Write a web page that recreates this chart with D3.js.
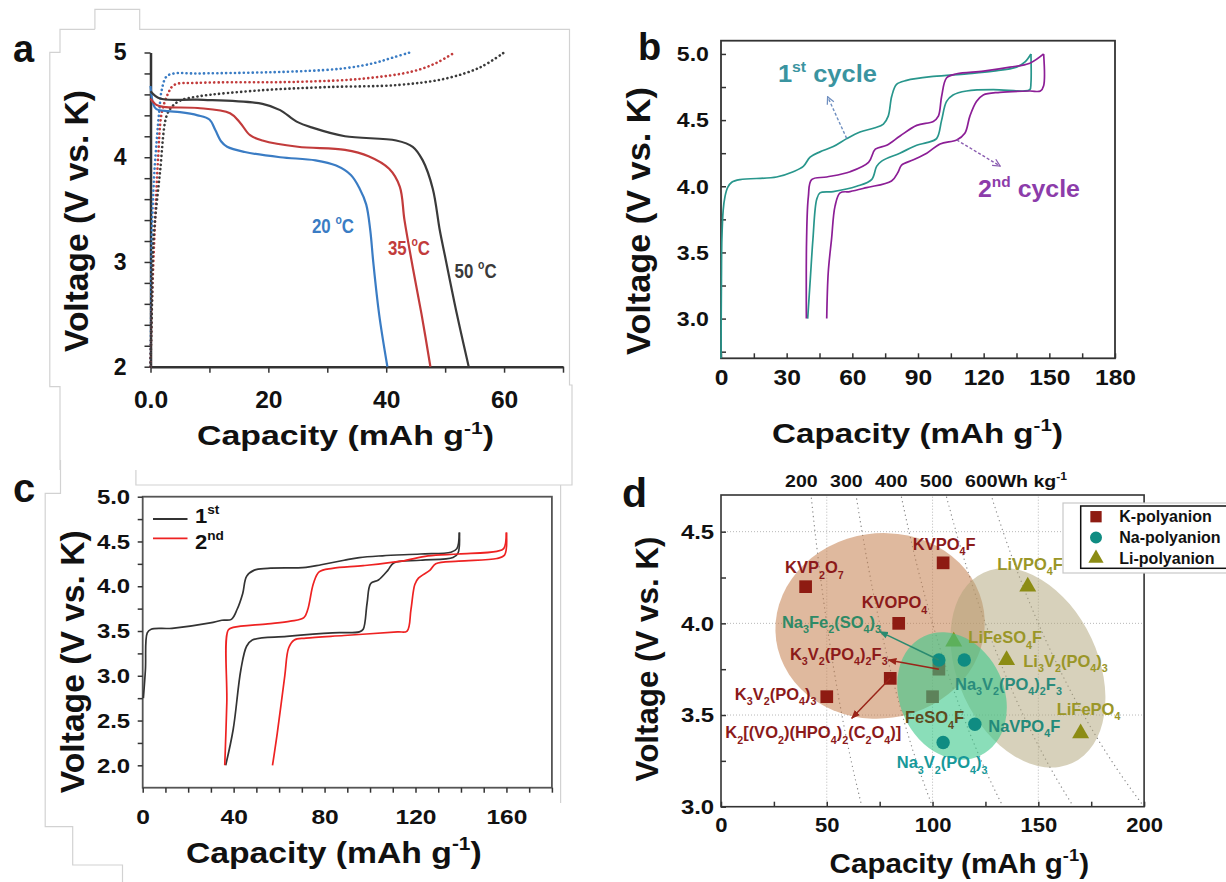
<!DOCTYPE html>
<html>
<head>
<meta charset="utf-8">
<script src="https://cdn.jsdelivr.net/npm/d3@7"></script>
<style>
  body { margin: 0; background: #fff; }
  svg { display: block; }
  text { font-family: "Liberation Sans", Arial, sans-serif; font-weight: bold; white-space: pre; }
</style>
</head>
<body>
<script>
// ---------- panel a : discharge (solid) and charge (dotted) at 3 temperatures
const tempNames = ['20', '35', '50'];
const aDis20 = [[0,4.68],[0.5,4.5],[1,4.46],[3,4.44],[5,4.43],[8,4.4],[10,4.36],[11,4.26],[12,4.15],[13,4.1],[16,4.05],[22,4.0],[28,3.97],[31.5,3.92],[34,3.83],[35.5,3.7],[36.6,3.55],[37.3,3.3],[37.8,3.0],[38.8,2.5],[40.2,2.0]];
const aDis35 = [[0,4.56],[1,4.5],[2.2,4.48],[8,4.47],[13.5,4.42],[15.2,4.33],[16.9,4.21],[19,4.16],[25,4.1],[33,4.07],[37,4.01],[40.5,3.89],[42.3,3.72],[43.1,3.4],[44.5,2.95],[46,2.5],[47.5,2.0]];
const aDis50 = [[0,4.63],[1.6,4.56],[8,4.55],[19,4.51],[22,4.45],[24.8,4.34],[27.6,4.28],[33,4.2],[41.7,4.16],[44.5,4.1],[46.2,3.97],[47.9,3.7],[49.1,3.3],[50,3.05],[52,2.5],[54,2.0]];
const aChg20 = [[0,2.0],[0.1,2.5],[0.2,3.2],[0.6,3.8],[1.05,4.16],[1.5,4.45],[1.9,4.64],[2.7,4.77],[4,4.8],[8,4.8],[25,4.82],[33,4.85],[38,4.9],[41,4.95],[44,5.0]];
const aChg35 = [[0,2.0],[0.3,2.7],[0.76,3.37],[1.3,4.0],[1.9,4.42],[3,4.61],[4,4.69],[8,4.71],[25,4.72],[36,4.75],[44.5,4.82],[48.5,4.9],[51.6,5.0]];
const aChg50 = [[0,2.0],[0.25,2.6],[0.5,3.2],[1.6,3.85],[2.7,4.39],[3.6,4.48],[5,4.54],[8,4.58],[19,4.64],[30,4.67],[42,4.69],[50,4.75],[56,4.86],[60,5.0]];

// ---------- panel b : two cycles
const bCycleNames = ['1^{st} cycle', '2^{nd} cycle'];
const bChg1 = [[0,2.7],[0.2,3.3],[0.4,3.6],[1.0,3.82],[1.8,3.92],[3,3.99],[4.9,4.03],[8.7,4.05],[25.4,4.07],[33,4.11],[37.6,4.15],[40.7,4.22],[45.2,4.26],[51.3,4.3],[57.4,4.36],[63.5,4.41],[70,4.44],[74.2,4.47],[76.4,4.53],[78,4.68],[80.2,4.77],[84.8,4.8],[97,4.83],[112.2,4.85],[124.4,4.87],[135,4.9],[138.9,4.94],[141.6,5.0]];
const bDis1 = [[141.6,5.0],[141.6,4.78],[141.1,4.73],[138,4.72],[124.4,4.73],[112.2,4.72],[106,4.69],[103,4.64],[100.8,4.5],[98.5,4.36],[94,4.33],[89.4,4.31],[81.7,4.25],[73.4,4.19],[71.1,4.15],[68.8,4.05],[62,4.0],[51.3,3.96],[45.2,3.95],[43.7,3.9],[42.0,3.6],[40.8,3.3],[39.6,3.0]];
const bChg2 = [[39.0,3.0],[39.1,3.6],[39.9,3.92],[41.4,4.05],[48.3,4.07],[59,4.11],[67.4,4.18],[70.5,4.28],[75.7,4.31],[81.8,4.38],[89.4,4.46],[97,4.49],[99.3,4.53],[100.8,4.68],[103.1,4.82],[107.7,4.85],[119.9,4.87],[132,4.9],[141.1,4.93],[147.4,5.0]];
const bDis2 = [[147.4,5.0],[147.4,4.76],[145.9,4.72],[141.1,4.72],[127.4,4.71],[119.8,4.69],[116.7,4.64],[113.7,4.53],[111.4,4.4],[107.7,4.35],[100.1,4.32],[94,4.25],[87.9,4.2],[82.5,4.16],[81,4.11],[77.9,4.04],[66.5,3.99],[58.9,3.96],[54.4,3.95],[52.1,3.85],[50.5,3.6],[49,3.35],[48.3,3.0]];

// ---------- panel c : two cycles
const cCycleNames = ['1^{st}', '2^{nd}'];
const cChg1 = [[0.3,2.75],[1.2,3.07],[2.0,3.48],[3.7,3.52],[12.9,3.53],[29.7,3.59],[34.8,3.62],[39,3.63],[41.5,3.74],[44,3.92],[45.7,4.11],[49.1,4.18],[55,4.2],[71.8,4.21],[78.5,4.24],[88.6,4.29],[95.3,4.32],[105.4,4.34],[122.2,4.36],[135.6,4.38],[138.2,4.42],[139.3,4.6]];
const cDis1 = [[139.3,4.6],[138.7,4.37],[136.5,4.32],[122.2,4.29],[110.4,4.26],[107.9,4.18],[103.7,4.07],[100.3,4.03],[98.7,3.81],[97,3.52],[95.3,3.49],[83.5,3.48],[63.4,3.44],[48.2,3.4],[45.7,3.33],[43.2,3.07],[39.8,2.4],[36.5,2.0]];
const cChg2 = [[36.1,2.0],[37,2.7],[37.6,3.51],[39.8,3.54],[55,3.58],[65,3.61],[70.9,3.65],[72.6,3.74],[75.1,4.03],[77.6,4.16],[83.5,4.2],[97,4.23],[113.8,4.28],[125.5,4.34],[139,4.36],[155.8,4.39],[158.8,4.42],[160,4.6]];
const cDis2 = [[160,4.6],[159.2,4.35],[155.8,4.31],[139,4.28],[128.9,4.25],[126.4,4.18],[121.3,4.09],[119.7,4.02],[118,3.74],[116.3,3.5],[112.1,3.49],[88.6,3.45],[71.8,3.42],[66.7,3.4],[64.2,3.31],[62.5,3.0],[59.2,2.36],[57.1,2.0]];

// ---------- panel d : voltage vs capacity of polyanion cathodes
const kNames = ['KVP_{2}O_{7}', 'KVPO_{4}F', 'KVOPO_{4}', 'K_{3}V_{2}(PO_{4})_{2}F_{3}', 'K_{2}[(VO_{2})(HPO_{4})_{2}(C_{2}O_{4})]', 'K_{3}V_{2}(PO_{4})_{3}', 'FeSO_{4}F'];
const kCap = [40, 105, 84, 103, 80, 50, 100];
const kVolt = [4.2, 4.33, 4.0, 3.75, 3.7, 3.6, 3.6];
const naNames = ['Na_{3}Fe_{2}(SO_{4})_{3}', 'Na_{3}V_{2}(PO_{4})_{2}F_{3}', 'NaVPO_{4}F', 'Na_{3}V_{2}(PO_{4})_{3}'];
const naCap = [103, 115, 120, 105];
const naVolt = [3.8, 3.8, 3.45, 3.35];
const liNames = ['LiVPO_{4}F', 'LiFeSO_{4}F', 'Li_{3}V_{2}(PO_{4})_{3}', 'LiFePO_{4}'];
const liCap = [145, 110, 135, 170];
const liVolt = [4.2, 3.9, 3.8, 3.4];
const legendNames = ['K-polyanion', 'Na-polyanion', 'Li-polyanion'];
const regionCap = [75.2, 109.2, 145.1];
const regionVolt = [3.986, 3.604, 3.757];
const regionCapR = [49.6, 24.6, 33.1];
const regionVoltR = [0.505, 0.36, 0.573];
const energyLevels = [200, 300, 400, 500, 600];
const gridCapD = [50, 100, 150];
const gridVoltD = [3.5, 4.0, 4.5];

// ---------- layout (annotation placement only)
const tempPos = [[27.4, 3.28], [40.3, 3.07], [51.6, 2.85]];
const kLabelOff = [[-20.6,-13.4],[-30.4,-12.8],[-37,-15],[-149,-9],[-165,60],[-92,3.3],[-27.6,26.6]];
const naLabelOff = [[-157,-32],[-9.3,30],[13.4,7.5],[-46.4,25.8]];
const liLabelOff = [[-30.4,-16.7],[14.6,1.6],[16.7,6.6],[-24,-18.4]];
const kLabelColor = ['#8c1a1a','#8c1a1a','#8c1a1a','#8c1a1a','#8c1a1a','#8c1a1a','#5e4a1e'];
const naLabelColor = ['#2e8a66', '#2a8c7c', '#238a7a', '#17999a'];
const regionTilt = [-8, -25, -25];

const svg = d3.select('body').append('svg').attr('width', 1226).attr('height', 882);
const defs = svg.append('defs');

function rich(t, str, fs) {
  const parts = str.split(/(_\{[^}]*\}|\^\{[^}]*\})/).filter(s => s.length);
  let shift = 0;
  parts.forEach(p => {
    let s = 0, txt = p, size = fs;
    if (p[0] === '_' && p[1] === '{') { s = fs * 0.32; txt = p.slice(2, -1); size = fs * 0.65; }
    else if (p[0] === '^' && p[1] === '{') { s = -fs * 0.42; txt = p.slice(2, -1); size = fs * 0.62; }
    t.append('tspan').attr('dy', s - shift).attr('font-size', size).text(txt);
    shift = s;
  });
}

function label(parent, str, o) {
  const g = parent.append('g');
  const t = g.append('text').attr('font-size', o.size)
    .attr('text-anchor', o.anchor || 'start').attr('fill', o.fill || '#111');
  rich(t, str, o.size);
  let sx = o.sx || 1;
  if (o.width) sx = o.width / t.node().getBBox().width;
  g.attr('transform', `translate(${o.x},${o.y})` + (o.rot ? ` rotate(${o.rot})` : '') + ` scale(${sx},1)`);
  return g;
}

function styleAxis(g, fs, sx) {
  g.attr('font-family', null).attr('font-size', null);
  g.select('.domain').attr('stroke', '#333').attr('stroke-width', 2.5);
  g.selectAll('.tick line').attr('stroke', '#333').attr('stroke-width', 1.5);
  g.selectAll('.tick text').attr('font-size', fs).attr('fill', '#111').attr('transform', `scale(${sx},1)`);
}

function arrowHead(id, color, open) {
  const m = defs.append('marker').attr('id', id).attr('viewBox', '0 0 10 10')
    .attr('refX', 9).attr('refY', 5).attr('markerWidth', 9).attr('markerHeight', 9)
    .attr('markerUnits', 'userSpaceOnUse').attr('orient', 'auto');
  m.append('path').attr('d', open ? 'M1,1 L9,5 L1,9' : 'M0,1 L10,5 L0,9 z')
    .attr('fill', open ? 'none' : color).attr('stroke', color).attr('stroke-width', open ? 1.4 : 0);
}
arrowHead('arrB1', '#6f8fc0', true);
arrowHead('arrB2', '#8a5cb0', true);
arrowHead('arrK', '#9a2418', false);
arrowHead('arrNa', '#2a8a70', false);

const curve = d3.curveCatmullRom.alpha(0.5);
const lineOf = (x, y) => d3.line().x(d => x(d[0])).y(d => y(d[1])).curve(curve);

// faint outlines of the pasted sub-figures
svg.append('path')
  .attr('d', 'M94.9,29.3 V9.3 H139.7 V29.3 H569.5 V385 H572 V470 M94.9,29.3 H60 V52.3 H49.8 V386.7 H60 V470 ' +
             'M135.9,470 V485 H572 V470 M560.6,485 V803 M60.5,460 V493.3 H45.2 V826.7 H72.7 V865 H122.5 V882')
  .attr('fill', 'none').attr('stroke', '#d2d2d2').attr('stroke-width', 1.2);

// ===================== panel a
const xA = d3.scaleLinear().domain([0, 70]).range([150.5, 563]);
const yA = d3.scaleLinear().domain([2, 5]).range([366.7, 52.5]);
const gA = svg.append('g');
const colA = ['#3a7cc4', '#c23b3b', '#3a3a3a'];
const lineA = lineOf(xA, yA);

gA.append('g').attr('transform', `translate(0,${yA(2)})`)
  .call(d3.axisBottom(xA).tickValues(d3.range(0, 71, 10))
    .tickFormat(d => d === 0 ? '0.0' : (d % 20 === 0 ? d : '')).tickSize(6).tickPadding(19).tickSizeOuter(0))
  .call(g => styleAxis(g, 23, 1.07));
gA.append('g').attr('transform', `translate(${xA(0)},0)`)
  .call(d3.axisLeft(yA).tickValues(d3.range(10, 26).map(v => v / 5))
    .tickFormat(d => Number.isInteger(d) ? d : '').tickSize(6).tickPadding(18).tickSizeOuter(0))
  .call(g => styleAxis(g, 23, 1));

gA.selectAll('.chg').data([aChg20, aChg35, aChg50]).join('path')
  .attr('d', lineA).attr('fill', 'none').attr('stroke', (d, i) => colA[i])
  .attr('stroke-width', 2.6).attr('stroke-dasharray', '0.1,4.3').attr('stroke-linecap', 'round');
gA.selectAll('.dis').data([aDis20, aDis35, aDis50]).join('path')
  .attr('d', lineA).attr('fill', 'none').attr('stroke', (d, i) => colA[i]).attr('stroke-width', 2.2);

tempNames.forEach((t, i) => {
  label(gA, t + ' ^{o}C', { x: xA(tempPos[i][0]), y: yA(tempPos[i][1]), size: 21, width: 42, fill: colA[i] });
});
label(gA, 'a', { x: 13, y: 62, size: 38 });
label(gA, 'Voltage (V vs. K)', { x: 87.5, y: 221, size: 33, anchor: 'middle', rot: -90, width: 262 });
label(gA, 'Capacity (mAh g^{-1})', { x: 345.5, y: 445, size: 27, anchor: 'middle', width: 297 });

// ===================== panel b
const xB = d3.scaleLinear().domain([0, 180]).range([721, 1115]);
const yB = d3.scaleLinear().domain([2.7, 5.1]).range([358.3, 40.7]);
const gB = svg.append('g');
const lineB = lineOf(xB, yB);
const colB = ['#28968c', '#8c1e96'];

gB.append('g').attr('transform', `translate(0,${yB(2.7)})`)
  .call(d3.axisBottom(xB).tickValues(d3.range(0, 181, 15))
    .tickFormat(d => d % 30 === 0 ? d : '').tickSize(-5).tickPadding(11).tickSizeOuter(0))
  .call(g => { styleAxis(g, 22, 1.12); g.select('.domain').remove(); });
gB.append('g').attr('transform', `translate(${xB(0)},0)`)
  .call(d3.axisLeft(yB).tickValues(d3.range(11, 21).map(v => v / 4))
    .tickFormat(d => (d * 2) % 1 === 0 ? d.toFixed(1) : '').tickSize(-5).tickPadding(11).tickSizeOuter(0))
  .call(g => { styleAxis(g, 21, 1.1); g.select('.domain').remove(); });
gB.append('rect').attr('x', xB(0)).attr('y', yB(5.1)).attr('width', xB(180) - xB(0)).attr('height', yB(2.7) - yB(5.1))
  .attr('fill', 'none').attr('stroke', '#333').attr('stroke-width', 1.8);

[[bChg1, 0], [bDis1, 0], [bChg2, 1], [bDis2, 1]].forEach(([d, i]) => {
  gB.append('path').attr('d', lineB(d)).attr('fill', 'none').attr('stroke', colB[i]).attr('stroke-width', 1.7);
});
gB.append('line').attr('x1', xB(57.4)).attr('y1', yB(4.362)).attr('x2', xB(48.7)).attr('y2', yB(4.677))
  .attr('stroke', '#6f8fc0').attr('stroke-width', 1.4).attr('stroke-dasharray', '3,2').attr('marker-end', 'url(#arrB1)');
gB.append('line').attr('x1', xB(107.7)).attr('y1', yB(4.35)).attr('x2', xB(127.5)).attr('y2', yB(4.153))
  .attr('stroke', '#8a5cb0').attr('stroke-width', 1.4).attr('stroke-dasharray', '3,2').attr('marker-end', 'url(#arrB2)');
label(gB, bCycleNames[0], { x: xB(26), y: yB(4.79), size: 23, width: 99, fill: '#3a94a0' });
label(gB, bCycleNames[1], { x: xB(117.4), y: yB(3.92), size: 23, width: 102, fill: '#8c3caa' });
label(gB, 'b', { x: 638, y: 60, size: 38 });
label(gB, 'Voltage (V vs. K)', { x: 649.5, y: 221, size: 33, anchor: 'middle', rot: -90, width: 268 });
label(gB, 'Capacity (mAh g^{-1})', { x: 917.5, y: 443, size: 28, anchor: 'middle', width: 291 });

// ===================== panel c
const xC = d3.scaleLinear().domain([0, 180]).range([142.7, 551.9]);
const yC = d3.scaleLinear().domain([1.75, 5.0]).range([787.7, 496.7]);
const gC = svg.append('g');
const lineC = lineOf(xC, yC);
const colC = ['#333333', '#ee2222'];

gC.append('rect').attr('x', xC(0)).attr('y', yC(5)).attr('width', xC(180) - xC(0)).attr('height', yC(1.75) - yC(5))
  .attr('fill', 'none').attr('stroke', '#555').attr('stroke-width', 1.8);
gC.append('g').attr('transform', `translate(0,${yC(1.75)})`)
  .call(d3.axisBottom(xC).tickValues(d3.range(0, 181, 10))
    .tickFormat(d => d % 40 === 0 ? d : '').tickSize(5).tickPadding(16).tickSizeOuter(0))
  .call(g => { styleAxis(g, 21, 1.17); g.select('.domain').remove(); });
gC.append('g').attr('transform', `translate(${xC(0)},0)`)
  .call(d3.axisLeft(yC).tickValues(d3.range(8, 21).map(v => v / 4))
    .tickFormat(d => (d * 2) % 1 === 0 ? d.toFixed(1) : '').tickSize(5).tickPadding(6).tickSizeOuter(0))
  .call(g => { styleAxis(g, 21, 1.14); g.select('.domain').remove(); });

[[cChg1, 0], [cDis1, 0], [cChg2, 1], [cDis2, 1]].forEach(([d, i]) => {
  gC.append('path').attr('d', lineC(d)).attr('fill', 'none').attr('stroke', colC[i]).attr('stroke-width', 1.7);
});
const cLegLineY = [519, 538.3];
const cLegTextY = [523.3, 549.3];
cCycleNames.forEach((n, i) => {
  gC.append('line').attr('x1', 153).attr('x2', 187.5).attr('y1', cLegLineY[i]).attr('y2', cLegLineY[i])
    .attr('stroke', colC[i]).attr('stroke-width', 1.8);
  label(gC, n, { x: 195, y: cLegTextY[i], size: 21, sx: 1.05 });
});
label(gC, 'c', { x: 13, y: 502, size: 40 });
label(gC, 'Voltage (V vs. K)', { x: 83.5, y: 661.7, size: 33, anchor: 'middle', rot: -90, width: 263 });
label(gC, 'Capacity (mAh g^{-1})', { x: 333.8, y: 863, size: 30, anchor: 'middle', width: 296 });

// ===================== panel d
const xD = d3.scaleLinear().domain([0, 200]).range([721, 1144.1]);
const yD = d3.scaleLinear().domain([3.0, 4.7]).range([806.7, 495]);
const gD = svg.append('g');
const lineD = d3.line().x(d => xD(d[0])).y(d => yD(d[1]));
defs.append('clipPath').attr('id', 'clipD').append('rect')
  .attr('x', xD(0)).attr('y', yD(4.7)).attr('width', xD(200) - xD(0)).attr('height', yD(3) - yD(4.7));

const gridD = gD.append('g').attr('stroke', '#b8b8b8').attr('stroke-width', 1).attr('stroke-dasharray', '1,2');
gridD.selectAll('.gx').data(gridCapD).join('line')
  .attr('x1', d => xD(d)).attr('x2', d => xD(d)).attr('y1', yD(3)).attr('y2', yD(4.7));
gridD.selectAll('.gy').data(gridVoltD).join('line')
  .attr('y1', d => yD(d)).attr('y2', d => yD(d)).attr('x1', xD(0)).attr('x2', xD(200));

// iso-energy curves  E = capacity x voltage
gD.append('g').attr('clip-path', 'url(#clipD)').selectAll('path').data(energyLevels).join('path')
  .attr('d', E => lineD(d3.range(3.0, 4.701, 0.05).map(v => [E / v, v])))
  .attr('fill', 'none').attr('stroke', '#8a8a8a').attr('stroke-width', 1.3)
  .attr('stroke-dasharray', '0.1,4.5').attr('stroke-linecap', 'round');
energyLevels.forEach((E, i) => {
  label(gD, E + (i === energyLevels.length - 1 ? 'Wh kg^{-1}' : ''),
    { x: xD(E / 4.7) - 26, y: 486.7, size: 17, sx: 1.15 });
});

const regionFill = ['#c47f4f', '#3cc88a', '#b0a478'];
const regionOpacity = [0.55, 0.6, 0.5];
function region(i) {
  gD.append('ellipse')
    .attr('rx', xD(regionCap[i] + regionCapR[i]) - xD(regionCap[i]))
    .attr('ry', yD(regionVolt[i] - regionVoltR[i]) - yD(regionVolt[i]))
    .attr('transform', `translate(${xD(regionCap[i])},${yD(regionVolt[i])}) rotate(${regionTilt[i]})`)
    .attr('fill', regionFill[i]).attr('fill-opacity', regionOpacity[i]);
}
const kColor = '#8e1b12', naColor = '#0f8c82', liColor = '#8c8c14';
const sym = (type, size) => d3.symbol().type(type).size(size)();
region(0);
region(2);
gD.selectAll('.ksq').data(kNames).join('path')
  .attr('d', sym(d3.symbolSquare, 161))
  .attr('transform', (d, i) => `translate(${xD(kCap[i])},${yD(kVolt[i])})`).attr('fill', kColor);
gD.selectAll('.litri').data(liNames).join('path')
  .attr('d', sym(d3.symbolTriangle, 125))
  .attr('transform', (d, i) => `translate(${xD(liCap[i])},${yD(liVolt[i])})`).attr('fill', liColor);
region(1);
gD.selectAll('.nacirc').data(naNames).join('circle')
  .attr('r', 6.7).attr('cx', (d, i) => xD(naCap[i])).attr('cy', (d, i) => yD(naVolt[i])).attr('fill', naColor);

// arrows from markers to their labels
const arrows = [
  [xD(naCap[0]), yD(naVolt[0]), -59, -28.4, '#2a8a70', 'arrNa'],
  [xD(kCap[3]), yD(kVolt[3]), -50.6, -9.2, '#9a2418', 'arrK'],
  [xD(kCap[4]), yD(kVolt[4]), -38.5, 40, '#9a2418', 'arrK']
];
arrows.forEach(([x, y, dx, dy, c, m]) => {
  gD.append('line').attr('x1', x).attr('y1', y).attr('x2', x + dx).attr('y2', y + dy)
    .attr('stroke', c).attr('stroke-width', 1.5).attr('marker-end', `url(#${m})`);
});

kNames.forEach((n, i) => label(gD, n, { x: xD(kCap[i]) + kLabelOff[i][0], y: yD(kVolt[i]) + kLabelOff[i][1], size: 16.5, fill: kLabelColor[i] }));
naNames.forEach((n, i) => label(gD, n, { x: xD(naCap[i]) + naLabelOff[i][0], y: yD(naVolt[i]) + naLabelOff[i][1], size: 16.5, fill: naLabelColor[i] }));
liNames.forEach((n, i) => label(gD, n, { x: xD(liCap[i]) + liLabelOff[i][0], y: yD(liVolt[i]) + liLabelOff[i][1], size: 16.5, fill: '#9a9628' }));

gD.append('g').attr('transform', `translate(0,${yD(3)})`)
  .call(d3.axisBottom(xD).tickValues(d3.range(0, 201, 25))
    .tickFormat(d => d % 50 === 0 ? d : '').tickSize(-5).tickPadding(10).tickSizeOuter(0))
  .call(g => { styleAxis(g, 21, 1.05); g.select('.domain').remove(); });
gD.append('g').attr('transform', `translate(${xD(0)},0)`)
  .call(d3.axisLeft(yD).tickValues(d3.range(12, 19).map(v => v / 4))
    .tickFormat(d => (d * 2) % 1 === 0 ? d.toFixed(1) : '').tickSize(-5).tickPadding(6).tickSizeOuter(0))
  .call(g => { styleAxis(g, 21, 1.14); g.select('.domain').remove(); });
gD.append('rect').attr('x', xD(0)).attr('y', yD(4.7)).attr('width', xD(200) - xD(0)).attr('height', yD(3) - yD(4.7))
  .attr('fill', 'none').attr('stroke', '#333').attr('stroke-width', 1.6);

// legend
gD.append('rect').attr('x', 1063).attr('y', 503).attr('width', 200).attr('height', 70)
  .attr('fill', '#fff').attr('stroke', '#c8c8c8').attr('stroke-width', 1.2);
gD.append('rect').attr('x', 1080.7).attr('y', 506).attr('width', 200).attr('height', 62.3)
  .attr('fill', '#fff').attr('stroke', '#111').attr('stroke-width', 1.5);
const legSym = [d3.symbolSquare, d3.symbolCircle, d3.symbolTriangle];
const legSize = [128, 113, 100];
const legColor = [kColor, naColor, liColor];
legendNames.forEach((n, i) => {
  const y = 516.7 + i * 20.8;
  gD.append('path').attr('d', sym(legSym[i], legSize[i]))
    .attr('transform', `translate(1096,${y})`).attr('fill', legColor[i]);
  label(gD, n, { x: 1119.3, y: y + 5.5, size: 16 });
});

label(gD, 'd', { x: 622, y: 506.7, size: 41 });
label(gD, 'Voltage (V vs. K)', { x: 657.7, y: 659, size: 32, anchor: 'middle', rot: -90, width: 245 });
label(gD, 'Capacity (mAh g^{-1})', { x: 959.3, y: 873, size: 28, anchor: 'middle', width: 259.5 });
</script>
</body>
</html>
